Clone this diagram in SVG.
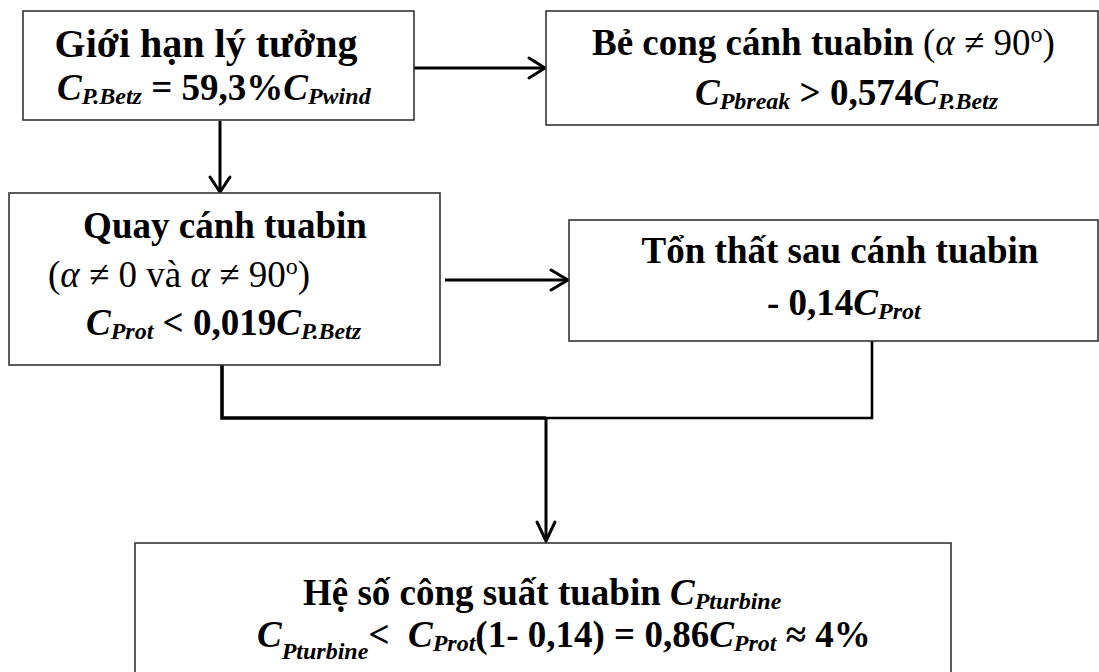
<svg xmlns="http://www.w3.org/2000/svg" width="1099" height="672" viewBox="0 0 1099 672">
<style>
  .box { fill: #ffffff; stroke: #333333; stroke-width: 1.6; }
  .t { font-family: "Liberation Serif", "Times New Roman", serif; font-size: 37px; fill: #000000; }
  .b { font-weight: bold; }
  .i { font-style: italic; }
  .s { font-size: 24px; }
  .con { fill: none; stroke: #000000; stroke-width: 3; }
  .head { fill: none; stroke: #000000; stroke-width: 3; stroke-linecap: round; stroke-linejoin: miter; }
</style>
<rect x="0" y="0" width="1099" height="672" fill="#ffffff"/>

<g id="connectors">
  <line class="con" x1="414" y1="68" x2="544" y2="68"/>
  <polyline class="head" points="529,58 545,68 529,78"/>
  <line class="con" x1="220" y1="121" x2="220" y2="191"/>
  <polyline class="head" points="210,177 220,192 230,177"/>
  <line class="con" x1="445" y1="280" x2="567" y2="280"/>
  <polyline class="head" points="551,270 568,280 551,290"/>
  <polyline class="con" points="222,365 222,418 546,418" style="stroke-width:3.6"/>
  <polyline class="con" points="872,341 872,418 546,418" style="stroke-width:2.6"/>
  <line class="con" x1="546" y1="418" x2="546" y2="540"/>
  <polyline class="head" points="537,522 546,541 555,522"/>
</g>

<g id="node-betz">
  <rect class="box" x="23" y="11" width="391" height="109"/>
  <text class="t b" x="206" y="57" text-anchor="middle" style="font-size:40px">Giới hạn lý tưởng</text>
  <text class="t b" x="57" y="100"><tspan class="i">C</tspan><tspan class="i s" y="104">P.Betz</tspan><tspan y="100"> = 59,3%</tspan><tspan class="i">C</tspan><tspan class="i s" y="104">Pwind</tspan></text>
</g>

<g id="node-bend">
  <rect class="box" x="546" y="11" width="552" height="114"/>
  <text class="t" x="592" y="55"><tspan class="b">Bẻ cong cánh tuabin </tspan><tspan>(</tspan><tspan class="i">α</tspan><tspan> ≠ 90</tspan><tspan class="s" y="42">o</tspan><tspan y="55">)</tspan></text>
  <text class="t b" x="695" y="105"><tspan class="i">C</tspan><tspan class="i s" y="109">Pbreak</tspan><tspan y="105"> &gt; 0,574</tspan><tspan class="i">C</tspan><tspan class="i s" y="109">P.Betz</tspan></text>
</g>

<g id="node-rotate">
  <rect class="box" x="9" y="193" width="431" height="172"/>
  <text class="t b" x="225" y="238" text-anchor="middle">Quay cánh tuabin</text>
  <text class="t" x="48" y="287"><tspan>(</tspan><tspan class="i">α</tspan><tspan> ≠ 0 và </tspan><tspan class="i">α</tspan><tspan> ≠ 90</tspan><tspan class="s" y="274">o</tspan><tspan y="287">)</tspan></text>
  <text class="t b" x="86" y="335"><tspan class="i">C</tspan><tspan class="i s" y="339">Prot</tspan><tspan y="335"> &lt; 0,019</tspan><tspan class="i">C</tspan><tspan class="i s" y="339">P.Betz</tspan></text>
</g>

<g id="node-loss">
  <rect class="box" x="569" y="220" width="529" height="121"/>
  <text class="t b" x="840" y="263" text-anchor="middle">Tổn thất sau cánh tuabin</text>
  <text class="t b" x="767" y="315"><tspan>- 0,14</tspan><tspan class="i">C</tspan><tspan class="i s" y="319">Prot</tspan></text>
</g>

<g id="node-turbine">
  <rect class="box" x="135" y="543" width="816" height="140"/>
  <text class="t b" x="303" y="605"><tspan>Hệ số công suất tuabin </tspan><tspan class="i">C</tspan><tspan class="i s" y="609">Pturbine</tspan></text>
  <text class="t b" x="257" y="647" xml:space="preserve"><tspan class="i">C</tspan><tspan class="i s" y="659">Pturbine</tspan><tspan y="647">&lt;  </tspan><tspan class="i">C</tspan><tspan class="i s" y="651">Prot</tspan><tspan y="647">(1- 0,14) = 0,86</tspan><tspan class="i">C</tspan><tspan class="i s" y="651">Prot</tspan><tspan y="647"> ≈ 4%</tspan></text>
</g>
</svg>
